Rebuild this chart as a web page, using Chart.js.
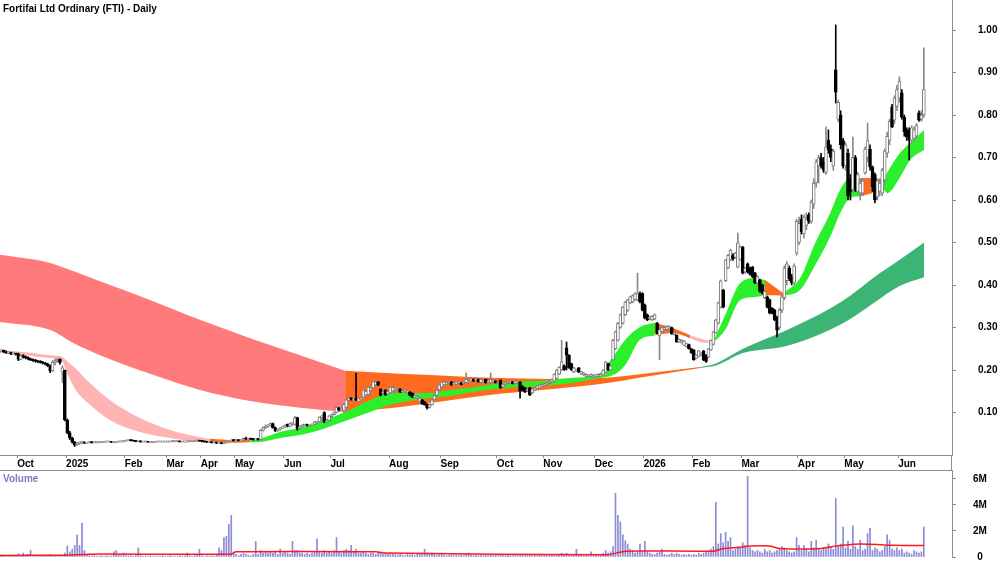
<!DOCTYPE html>
<html>
<head>
<meta charset="utf-8">
<script src="https://cdn.jsdelivr.net/npm/chart.js@4.4.1/dist/chart.umd.min.js"></script>
<style>
  body { margin: 0; background: #fff; width: 1000px; height: 562px; overflow: hidden; position: relative; }
  canvas { position: absolute; left: 0; }
  #price { top: 0; }
  #vol { top: 469px; }
  .lbl { position: absolute; font: bold 10px "Liberation Sans", Arial, sans-serif; white-space: nowrap; }
  #title { left: 3px; top: 3px; color: #000; }
  #volTitle { left: 3px; top: 473px; color: #7a7ac6; }
  #axisJoin { position: absolute; left: 951px; top: 455px; width: 1px; height: 15px; background: #8c8c8c; }
</style>
</head>
<body>
<canvas id="price" width="1000" height="470"></canvas>
<canvas id="vol" width="1000" height="93"></canvas>
<div id="axisJoin"></div>
<div class="lbl" id="title">Fortifai Ltd Ordinary (FTI) - Daily</div>
<div class="lbl" id="volTitle">Volume</div>
<script>
// one row per trading day: [open, high, low, close, volume in millions]
const sep24 = [
  [0.245,0.248,0.243,0.246,0.15],[0.246,0.247,0.241,0.243,0.1],[0.243,0.245,0.239,0.240,0.12],
  [0.240,0.243,0.238,0.241,0.08],[0.241,0.242,0.236,0.238,0.1],[0.238,0.240,0.236,0.239,0.06],
  [0.239,0.240,0.235,0.237,0.09]
];
const oct24 = [
  [0.237,0.240,0.222,0.225,0.25],[0.225,0.236,0.224,0.234,0.15],[0.234,0.236,0.228,0.230,0.3],
  [0.230,0.233,0.226,0.229,0.1],[0.229,0.231,0.224,0.226,0.2],[0.226,0.228,0.222,0.224,0.5],
  [0.224,0.226,0.220,0.222,0.1],[0.222,0.225,0.218,0.221,0.08],[0.221,0.223,0.217,0.219,0.12],
  [0.219,0.222,0.216,0.218,0.06],[0.218,0.220,0.214,0.216,0.1],[0.216,0.218,0.212,0.214,0.08],
  [0.214,0.216,0.208,0.210,0.12],[0.210,0.212,0.194,0.198,0.2],[0.198,0.222,0.196,0.218,0.15],
  [0.218,0.226,0.212,0.222,0.1],[0.222,0.228,0.218,0.225,0.12],[0.225,0.226,0.214,0.218,0.08],
  [0.195,0.210,0.170,0.205,0.1],[0.200,0.200,0.080,0.082,0.3]
];
const jan25 = [
  [0.082,0.085,0.050,0.052,0.85],[0.052,0.056,0.036,0.040,0.4],[0.040,0.042,0.028,0.030,0.6],
  [0.030,0.032,0.020,0.024,0.9],[0.024,0.030,0.022,0.028,1.7],[0.028,0.031,0.025,0.029,0.9],
  [0.029,0.032,0.026,0.030,2.6],[0.030,0.031,0.027,0.028,0.5],[0.028,0.030,0.027,0.029,0.15],
  [0.029,0.031,0.028,0.030,0.1],[0.030,0.031,0.028,0.029,0.08],[0.029,0.030,0.028,0.029,0.1],
  [0.029,0.031,0.028,0.030,0.05],[0.030,0.031,0.029,0.030,0.08],[0.030,0.031,0.029,0.030,0.1],
  [0.030,0.032,0.029,0.031,0.06],[0.031,0.032,0.030,0.031,0.1],[0.031,0.032,0.030,0.031,0.05],
  [0.031,0.032,0.029,0.030,0.08],[0.030,0.031,0.029,0.030,0.4],[0.030,0.032,0.029,0.031,0.5],
  [0.031,0.032,0.030,0.031,0.15],[0.031,0.033,0.030,0.032,0.1],[0.032,0.034,0.031,0.033,0.3]
];
const feb25 = [
  [0.033,0.035,0.032,0.034,0.1],[0.034,0.036,0.033,0.035,0.08],[0.035,0.036,0.033,0.034,0.1],
  [0.034,0.035,0.032,0.033,0.05],[0.033,0.034,0.031,0.032,0.1],[0.032,0.033,0.031,0.032,0.7],
  [0.032,0.033,0.030,0.031,0.1],[0.031,0.032,0.030,0.031,0.05],[0.031,0.032,0.030,0.031,0.08],
  [0.031,0.032,0.030,0.030,0.05],[0.030,0.031,0.029,0.030,0.1],[0.030,0.031,0.029,0.030,0.06],
  [0.030,0.031,0.029,0.031,0.05],[0.031,0.032,0.030,0.031,0.08],[0.031,0.032,0.030,0.031,0.05],
  [0.031,0.032,0.030,0.031,0.1],[0.031,0.032,0.030,0.031,0.05]
];
const mar25 = [
  [0.031,0.032,0.030,0.031,0.06],[0.031,0.032,0.030,0.032,0.1],[0.032,0.033,0.031,0.032,0.05],
  [0.032,0.033,0.031,0.032,0.08],[0.032,0.033,0.031,0.032,0.05],[0.032,0.033,0.031,0.031,0.1],
  [0.031,0.032,0.030,0.031,0.05],[0.031,0.032,0.030,0.031,0.08],[0.031,0.033,0.030,0.032,0.3],
  [0.032,0.033,0.031,0.032,0.1],[0.032,0.033,0.031,0.032,0.05],[0.032,0.034,0.031,0.033,0.1],
  [0.033,0.035,0.032,0.034,0.2],[0.034,0.035,0.032,0.033,0.6]
];
const apr25 = [
  [0.033,0.034,0.031,0.032,0.1],[0.032,0.033,0.030,0.031,0.05],[0.031,0.032,0.029,0.030,0.1],
  [0.030,0.031,0.029,0.030,0.05],[0.030,0.031,0.028,0.029,0.1],[0.029,0.030,0.028,0.029,0.08],
  [0.029,0.030,0.027,0.028,0.2],[0.028,0.030,0.027,0.029,0.7],[0.029,0.030,0.026,0.027,0.5],
  [0.027,0.030,0.026,0.029,1.5],[0.029,0.031,0.028,0.030,1.6],[0.030,0.033,0.029,0.032,2.5],
  [0.032,0.036,0.031,0.035,3.2],[0.035,0.037,0.033,0.034,0.4]
];
const may25 = [
  [0.034,0.036,0.033,0.035,0.2],[0.035,0.036,0.033,0.034,0.1],[0.034,0.036,0.033,0.035,0.2],
  [0.035,0.040,0.034,0.039,0.3],[0.039,0.042,0.036,0.037,0.2],[0.037,0.040,0.035,0.038,0.15],
  [0.038,0.040,0.036,0.037,0.1],[0.037,0.039,0.035,0.036,0.2],[0.036,0.038,0.035,0.037,1.2],
  [0.037,0.039,0.035,0.036,0.2],[0.036,0.060,0.035,0.058,0.5],[0.058,0.066,0.056,0.064,0.3],
  [0.064,0.071,0.062,0.068,0.4],[0.068,0.072,0.065,0.070,0.3],[0.070,0.076,0.068,0.074,0.4],
  [0.074,0.075,0.063,0.064,0.3],[0.064,0.066,0.055,0.057,0.4],[0.057,0.061,0.055,0.060,0.2],
  [0.060,0.065,0.058,0.064,0.6],[0.064,0.068,0.062,0.066,0.3]
];
const jun25 = [
  [0.066,0.071,0.064,0.070,0.4],[0.072,0.073,0.066,0.068,0.3],[0.067,0.076,0.066,0.074,0.2],
  [0.072,0.077,0.070,0.075,1.2],[0.072,0.091,0.070,0.088,0.5],[0.088,0.089,0.058,0.062,0.5],
  [0.062,0.069,0.060,0.067,0.3],[0.067,0.072,0.065,0.070,0.3],[0.070,0.073,0.068,0.071,0.2],
  [0.071,0.073,0.068,0.070,0.3],[0.070,0.072,0.068,0.071,0.2],[0.071,0.073,0.069,0.072,0.3],
  [0.072,0.079,0.071,0.078,0.4],[0.077,0.080,0.074,0.078,1.4],[0.078,0.090,0.077,0.089,0.4],
  [0.089,0.093,0.080,0.091,0.3],[0.100,0.102,0.076,0.078,0.5],[0.078,0.083,0.076,0.081,0.3],
  [0.081,0.093,0.080,0.092,0.4]
];
const jul25 = [
  [0.090,0.096,0.088,0.095,0.3],[0.095,0.101,0.094,0.100,0.5],[0.100,0.114,0.099,0.112,1.5],
  [0.110,0.112,0.104,0.106,0.4],[0.106,0.111,0.104,0.110,0.3],[0.104,0.121,0.100,0.119,0.5],
  [0.112,0.131,0.110,0.130,0.6],[0.128,0.136,0.125,0.134,0.5],[0.134,0.135,0.129,0.131,0.9],
  [0.130,0.135,0.127,0.133,0.4],[0.133,0.193,0.128,0.129,0.6],[0.125,0.135,0.124,0.134,0.3],
  [0.131,0.135,0.128,0.133,0.3],[0.136,0.154,0.135,0.153,0.4],[0.141,0.152,0.140,0.150,0.3],
  [0.142,0.161,0.140,0.160,0.2],[0.152,0.161,0.150,0.158,0.3],[0.158,0.173,0.157,0.172,0.3],
  [0.165,0.174,0.164,0.172,0.2],[0.172,0.173,0.163,0.165,0.3],[0.155,0.156,0.139,0.141,0.4],
  [0.145,0.151,0.143,0.149,0.2],[0.152,0.154,0.140,0.142,0.3],[0.144,0.151,0.143,0.150,0.2]
];
const aug25 = [
  [0.146,0.161,0.145,0.160,0.3],[0.150,0.161,0.149,0.159,0.2],[0.153,0.158,0.151,0.157,0.2],
  [0.151,0.156,0.149,0.155,0.15],[0.155,0.156,0.147,0.148,0.2],[0.148,0.153,0.147,0.152,0.15],
  [0.149,0.154,0.147,0.153,0.1],[0.147,0.151,0.145,0.150,0.2],[0.148,0.149,0.139,0.140,0.15],
  [0.145,0.146,0.135,0.136,0.2],[0.136,0.141,0.135,0.140,0.1],[0.134,0.139,0.132,0.138,0.3],
  [0.125,0.135,0.124,0.134,0.2],[0.130,0.131,0.119,0.120,0.3],[0.125,0.126,0.117,0.118,0.6],
  [0.120,0.121,0.108,0.111,0.3],[0.112,0.119,0.110,0.118,0.2],[0.118,0.131,0.117,0.130,0.3],
  [0.130,0.141,0.129,0.140,0.2],[0.140,0.154,0.139,0.153,0.15],[0.153,0.166,0.152,0.165,0.2]
];
const sep25 = [
  [0.160,0.173,0.159,0.172,0.2],[0.165,0.173,0.164,0.172,0.15],[0.166,0.171,0.164,0.170,0.1],
  [0.168,0.173,0.167,0.172,0.15],[0.172,0.173,0.164,0.165,0.2],[0.165,0.171,0.164,0.170,0.1],
  [0.166,0.173,0.165,0.172,0.15],[0.168,0.173,0.167,0.172,0.1],[0.170,0.171,0.165,0.166,0.15],
  [0.168,0.173,0.167,0.172,0.1],[0.170,0.193,0.169,0.178,0.2],[0.172,0.177,0.171,0.176,0.3],
  [0.174,0.181,0.173,0.180,0.15],[0.178,0.179,0.173,0.174,0.1],[0.175,0.181,0.174,0.180,0.15],
  [0.178,0.179,0.171,0.172,0.1],[0.170,0.179,0.169,0.178,0.15],[0.172,0.177,0.171,0.176,0.1],
  [0.178,0.179,0.169,0.170,0.15],[0.170,0.175,0.169,0.174,0.1],[0.170,0.193,0.169,0.178,0.15],
  [0.172,0.177,0.171,0.176,0.1],[0.174,0.175,0.169,0.170,0.15]
];
const oct25 = [
  [0.168,0.173,0.167,0.172,0.1],[0.176,0.177,0.157,0.158,0.2],[0.160,0.167,0.159,0.166,0.15],
  [0.165,0.171,0.164,0.170,0.1],[0.168,0.173,0.167,0.172,0.15],[0.170,0.174,0.169,0.173,0.1],
  [0.172,0.173,0.167,0.168,0.1],[0.168,0.175,0.167,0.174,0.15],[0.170,0.175,0.169,0.174,0.1],
  [0.172,0.173,0.134,0.150,0.2],[0.162,0.163,0.151,0.152,0.15],[0.158,0.159,0.147,0.148,0.1],
  [0.150,0.156,0.149,0.155,0.15],[0.158,0.159,0.140,0.141,0.2],[0.146,0.156,0.145,0.155,0.1],
  [0.152,0.159,0.151,0.158,0.15],[0.156,0.163,0.155,0.162,0.1],[0.158,0.166,0.157,0.165,0.15],
  [0.162,0.167,0.161,0.166,0.1]
];
const nov25 = [
  [0.164,0.169,0.163,0.168,0.15],[0.165,0.171,0.164,0.170,0.1],[0.168,0.173,0.167,0.172,0.15],
  [0.172,0.179,0.171,0.178,0.2],[0.174,0.191,0.173,0.190,0.15],[0.180,0.201,0.179,0.200,0.2],
  [0.190,0.208,0.189,0.207,0.15],[0.200,0.270,0.199,0.220,0.3],[0.210,0.212,0.199,0.201,0.2],
  [0.252,0.266,0.200,0.235,0.3],[0.235,0.236,0.204,0.205,0.2],[0.215,0.216,0.199,0.200,0.15],
  [0.195,0.206,0.194,0.205,0.2],[0.198,0.201,0.196,0.200,0.6],[0.205,0.206,0.194,0.195,0.2],
  [0.190,0.197,0.189,0.196,0.15],[0.188,0.194,0.187,0.193,0.1],[0.185,0.191,0.184,0.190,0.15],
  [0.184,0.189,0.183,0.188,0.1],[0.185,0.191,0.184,0.190,0.4],[0.183,0.189,0.182,0.188,0.1]
];
const dec25 = [
  [0.184,0.190,0.183,0.189,0.15],[0.185,0.191,0.184,0.190,0.1],[0.186,0.191,0.185,0.190,0.2],
  [0.188,0.201,0.187,0.200,0.3],[0.195,0.220,0.194,0.219,0.5],[0.215,0.216,0.199,0.200,0.3],
  [0.200,0.211,0.199,0.210,0.4],[0.224,0.272,0.222,0.270,0.8],[0.250,0.292,0.248,0.290,4.9],
  [0.270,0.312,0.268,0.310,3.2],[0.300,0.332,0.298,0.330,2.7],[0.310,0.350,0.308,0.348,1.7],
  [0.330,0.362,0.328,0.360,1.25],[0.340,0.367,0.338,0.365,1.0],[0.358,0.374,0.356,0.372,0.6],
  [0.360,0.377,0.358,0.375,0.5],[0.365,0.382,0.363,0.380,0.3],[0.365,0.428,0.363,0.380,0.4],
  [0.380,0.384,0.358,0.360,1.0],[0.380,0.382,0.339,0.341,0.4]
];
const jan26 = [
  [0.353,0.355,0.320,0.322,1.2],[0.330,0.332,0.316,0.318,0.4],[0.320,0.326,0.318,0.325,0.3],
  [0.318,0.328,0.316,0.326,0.2],[0.320,0.332,0.318,0.330,0.2],[0.310,0.312,0.285,0.287,0.3],
  [0.280,0.297,0.224,0.295,0.4],[0.290,0.302,0.288,0.300,0.6],[0.295,0.302,0.293,0.300,0.2],
  [0.295,0.304,0.294,0.302,0.15],[0.296,0.304,0.295,0.302,0.2],[0.300,0.301,0.284,0.285,0.3],
  [0.283,0.290,0.282,0.288,0.2],[0.282,0.283,0.265,0.266,0.3],[0.266,0.273,0.265,0.272,0.2],
  [0.265,0.271,0.263,0.270,0.15],[0.258,0.269,0.257,0.268,0.2],[0.255,0.263,0.254,0.262,0.15],
  [0.260,0.261,0.249,0.250,0.2],[0.250,0.251,0.239,0.240,0.15]
];
const feb26 = [
  [0.247,0.248,0.223,0.224,0.2],[0.228,0.236,0.226,0.235,0.15],[0.232,0.246,0.231,0.245,0.3],
  [0.235,0.241,0.233,0.240,0.2],[0.245,0.246,0.222,0.224,0.3],[0.235,0.236,0.218,0.220,0.4],
  [0.230,0.251,0.229,0.250,0.5],[0.247,0.271,0.246,0.270,0.6],[0.260,0.291,0.259,0.290,0.8],
  [0.287,0.319,0.286,0.318,4.2],[0.310,0.360,0.308,0.358,1.0],[0.348,0.412,0.346,0.410,1.8],
  [0.388,0.390,0.346,0.348,1.1],[0.410,0.460,0.408,0.459,1.9],[0.440,0.472,0.438,0.470,1.2],
  [0.459,0.484,0.457,0.482,1.5],[0.470,0.474,0.458,0.462,0.5],[0.465,0.477,0.463,0.475,0.6],
  [0.442,0.522,0.440,0.499,0.8],[0.460,0.492,0.458,0.490,0.7]
];
const mar26 = [
  [0.489,0.491,0.426,0.428,1.1],[0.430,0.442,0.428,0.440,0.9],[0.450,0.452,0.428,0.430,6.2],
  [0.440,0.442,0.423,0.425,0.7],[0.442,0.444,0.417,0.419,0.5],[0.428,0.430,0.403,0.405,0.4],
  [0.405,0.422,0.403,0.420,0.5],[0.412,0.414,0.383,0.385,0.4],[0.400,0.402,0.379,0.381,0.3],
  [0.370,0.387,0.368,0.385,0.6],[0.372,0.374,0.346,0.348,0.4],[0.365,0.367,0.332,0.334,0.5],
  [0.345,0.347,0.332,0.334,0.3],[0.341,0.343,0.316,0.318,0.4],[0.325,0.327,0.278,0.294,0.5],
  [0.300,0.345,0.295,0.341,0.6],[0.341,0.375,0.335,0.372,0.8],[0.370,0.445,0.365,0.440,0.7],
  [0.410,0.455,0.400,0.450,0.5],[0.440,0.445,0.410,0.415,0.4],[0.420,0.425,0.400,0.405,0.3],
  [0.405,0.450,0.400,0.445,0.4],[0.475,0.555,0.470,0.550,1.5]
];
const apr26 = [
  [0.500,0.560,0.495,0.545,0.9],[0.555,0.565,0.520,0.525,0.5],[0.520,0.565,0.510,0.560,0.9],
  [0.540,0.570,0.530,0.555,0.6],[0.565,0.570,0.545,0.550,0.4],[0.550,0.600,0.545,0.595,1.2],
  [0.590,0.650,0.580,0.640,0.7],[0.640,0.695,0.630,0.690,1.3],[0.680,0.705,0.640,0.700,0.6],
  [0.700,0.710,0.675,0.680,0.5],[0.690,0.700,0.665,0.670,0.7],[0.665,0.772,0.660,0.725,0.6],
  [0.741,0.765,0.710,0.718,1.0],[0.720,0.730,0.690,0.700,0.8],[0.680,0.720,0.670,0.715,0.6],
  [0.906,1.012,0.828,0.854,4.5],[0.790,0.835,0.785,0.830,0.8],[0.800,0.810,0.720,0.730,1.0],
  [0.740,0.745,0.675,0.680,2.3]
];
const may26 = [
  [0.680,0.735,0.670,0.730,0.7],[0.710,0.720,0.600,0.610,1.2],[0.650,0.660,0.600,0.620,0.6],
  [0.624,0.748,0.620,0.700,2.4],[0.700,0.705,0.620,0.624,0.8],[0.620,0.665,0.615,0.660,0.6],
  [0.616,0.650,0.600,0.640,1.3],[0.616,0.650,0.610,0.645,0.5],[0.664,0.725,0.660,0.720,0.6],
  [0.700,0.781,0.690,0.740,1.8],[0.720,0.730,0.670,0.678,2.2],[0.678,0.680,0.620,0.631,0.5],
  [0.660,0.664,0.593,0.600,0.7],[0.607,0.650,0.600,0.645,0.6],[0.620,0.650,0.610,0.640,0.4],
  [0.616,0.675,0.610,0.670,0.5],[0.647,0.720,0.640,0.715,0.8],[0.710,0.760,0.700,0.750,1.7],
  [0.740,0.790,0.730,0.785,1.3],[0.819,0.825,0.770,0.772,0.6],[0.788,0.845,0.780,0.840,0.5],
  [0.820,0.870,0.810,0.860,0.7]
];
const jun26 = [
  [0.840,0.890,0.830,0.880,0.5],[0.852,0.860,0.790,0.795,0.6],[0.795,0.800,0.750,0.760,0.3],
  [0.765,0.770,0.740,0.748,0.4],[0.765,0.770,0.694,0.741,0.3],[0.741,0.775,0.735,0.770,0.2],
  [0.745,0.772,0.740,0.765,0.5],[0.750,0.780,0.745,0.775,0.4],[0.805,0.810,0.785,0.788,0.3],
  [0.790,0.810,0.785,0.800,0.4],[0.800,0.958,0.795,0.860,2.3]
];

const monthChunks = [sep24, oct24, jan25, feb25, mar25, apr25, may25, jun25, jul25, aug25, sep25,
                     oct25, nov25, dec25, jan26, feb26, mar26, apr26, may26, jun26];
const monthLabels = ['', 'Oct', '2025', 'Feb', 'Mar', 'Apr', 'May', 'Jun', 'Jul', 'Aug', 'Sep',
                     'Oct', 'Nov', 'Dec', '2026', 'Feb', 'Mar', 'Apr', 'May', 'Jun'];
const priceTicks = [0.1, 0.2, 0.3, 0.4, 0.5, 0.6, 0.7, 0.8, 0.9, 1.0];
const volTicks = [0, 2, 4, 6];

// short-term ribbon (bar index, upper, lower, trend of the stretch starting there)
const fastX = [-0.5, 9.7, 20, 24.8, 27.3, 30.2, 36.3, 44.5, 56.7, 69, 81.2, 85.3, 95.5, 101.7,
  106.6, 113.9, 122.1, 130.3, 140.5, 150.7, 158.9, 168.3, 175.2, 183.4, 195.7, 207.9, 220.2,
  232.4, 244.7, 250, 255, 261, 267.2, 274.5, 281.5, 287.6, 290.9, 295.8, 302, 308.1, 312.1,
  316.2, 319.5, 326.4, 332.6, 338.7, 342.8, 346.9, 351, 355.9, 358.3, 360.5, 362, 367.3, 371.4, 377.1];
const fastUpper = [0.247, 0.242, 0.235, 0.231, 0.219, 0.205, 0.169, 0.129, 0.087, 0.059, 0.042, 0.038, 0.035, 0.036,
  0.040, 0.054, 0.064, 0.078, 0.101, 0.129, 0.146, 0.146, 0.146, 0.153, 0.162, 0.172, 0.174,
  0.181, 0.193, 0.231, 0.271, 0.301, 0.311, 0.299, 0.282, 0.271, 0.266, 0.329, 0.405, 0.416, 0.412,
  0.395, 0.381, 0.416, 0.499, 0.569, 0.624, 0.652, 0.652, 0.652, 0.650, 0.648, 0.664, 0.711, 0.734, 0.765];
const fastLower = [0.240, 0.235, 0.228, 0.221, 0.188, 0.155, 0.118, 0.082, 0.054, 0.040, 0.031, 0.031, 0.029, 0.030,
  0.031, 0.040, 0.047, 0.059, 0.080, 0.101, 0.118, 0.129, 0.134, 0.139, 0.151, 0.158, 0.162,
  0.169, 0.181, 0.188, 0.212, 0.271, 0.282, 0.287, 0.275, 0.264, 0.264, 0.294, 0.365, 0.372, 0.376,
  0.376, 0.374, 0.388, 0.447, 0.513, 0.569, 0.605, 0.609, 0.616, 0.622, 0.626, 0.616, 0.654, 0.694, 0.718];
const fastTrend = ['dn','dn','dn','dn','dn','dn','dn','dn','dn','dn','dn','turn','turn','up',
  'up','up','up','up','up','up','up','up','up','up','up','up','up',
  'up','up','up','up','up','turn','turn','dn','dn','up','up','up','up','turn',
  'turn','up','up','up','up','up','up','turn','up','turn','up','up','up','up','up'];

// long-term ribbon
const slowX = [-0.5, 20, 30.2, 40.4, 60.8, 81.2, 101.7, 122.1, 140.5, 163, 183.4, 203.8, 224.3,
  244.7, 265.1, 285.6, 291.7, 303.1, 319.5, 330.5, 338.7, 346.9, 357.1, 367.3, 377.1];
const slowUpper = [0.471, 0.452, 0.431, 0.409, 0.365, 0.318, 0.275, 0.235, 0.198, 0.191, 0.186, 0.181, 0.179,
  0.181, 0.193, 0.207, 0.215, 0.250, 0.290, 0.320, 0.345, 0.375, 0.420, 0.460, 0.500];
const slowLower = [0.313, 0.294, 0.261, 0.235, 0.191, 0.153, 0.127, 0.111, 0.101, 0.113, 0.129, 0.144, 0.155,
  0.167, 0.186, 0.205, 0.210, 0.240, 0.255, 0.275, 0.295, 0.320, 0.360, 0.398, 0.418];
const slowTrend = ['dn','dn','dn','dn','dn','dn','dn','dn','turn','turn','turn','turn','turn',
  'turn','turn','up','up','up','up','up','up','up','up','up','up'];

// average volume line (millions)
const volAvgX = [-0.5, 26, 36, 94, 96, 153, 157, 248, 255, 291, 295, 302, 306, 314, 318, 335, 341, 351, 359, 363, 377];
const volAvg = [0.12, 0.14, 0.22, 0.22, 0.4, 0.4, 0.3, 0.18, 0.45, 0.45, 0.65, 0.75, 0.85, 0.85, 0.65, 0.65, 0.85, 1.0, 0.95, 0.9, 0.88];

const fastColors = { dn: '#ffb3b3', turn: '#ff6a1e', up: '#2cef2c' };
const slowColors = { dn: '#ff7b7b', turn: '#ff6a1e', up: '#3bb474' };

const bars = monthChunks.flat();
const tickPos = [];
const tickText = [];
let count = 0;
monthChunks.forEach((m, k) => {
  if (monthLabels[k]) {
    tickPos.push(count - 0.5);
    tickText.push(monthLabels[k]);
  }
  count += m.length;
});

const X_MIN = -0.5, X_MAX = 388.5;
const axisGrey = '#8c8c8c';
const tickFont = { family: '"Liberation Sans", Arial, sans-serif', size: 10, weight: 'bold' };

// stop Chart.js from reserving room for the end labels / tick padding
function noPad(s) {
  s.paddingTop = 0; s.paddingBottom = 0; s.paddingLeft = 0; s.paddingRight = 0;
}

function ribbonSets(xs, upper, lower, trend, colors, order) {
  const sets = [];
  let start = 0;
  for (let i = 1; i < xs.length; i++) {
    if (i === xs.length - 1 || trend[i] !== trend[start]) {
      const idx = [];
      for (let j = start; j <= i; j++) idx.push(j);
      const col = colors[trend[start]];
      const common = {
        type: 'line', pointRadius: 0, borderWidth: 0, borderColor: 'rgba(0,0,0,0)',
        cubicInterpolationMode: 'monotone', order: order
      };
      sets.push(Object.assign({}, common, { data: idx.map(j => ({ x: xs[j], y: upper[j] })), fill: false }));
      sets.push(Object.assign({}, common, { data: idx.map(j => ({ x: xs[j], y: lower[j] })), fill: '-1', backgroundColor: col }));
      start = i;
    }
  }
  return sets;
}

const isUp = b => b[3] >= b[0];

const priceDatasets = [
  {
    type: 'bar',
    data: bars.map((b, i) => ({ x: i, y: [b[0], b[3]] })),
    backgroundColor: bars.map(b => isUp(b) ? '#ffffff' : '#000000'),
    borderColor: bars.map(b => isUp(b) ? '#7a7a7a' : '#000000'),
    borderWidth: 1,
    borderSkipped: false,
    barThickness: 3,
    minBarLength: 1,
    grouped: false,
    order: 1
  },
  {
    type: 'bar',
    data: bars.map((b, i) => ({ x: i, y: [b[2], b[1]] })),
    backgroundColor: bars.map(b => isUp(b) ? '#8a8a8a' : '#000000'),
    borderWidth: 0,
    barThickness: 1,
    grouped: false,
    order: 2
  },
  ...ribbonSets(fastX, fastUpper, fastLower, fastTrend, fastColors, 10),
  ...ribbonSets(slowX, slowUpper, slowLower, slowTrend, slowColors, 20)
];

new Chart(document.getElementById('price'), {
  type: 'bar',
  data: { datasets: priceDatasets },
  options: {
    responsive: false,
    animation: false,
    devicePixelRatio: 1,
    layout: { padding: 0 },
    plugins: { legend: { display: false }, tooltip: { enabled: false } },
    scales: {
      x: {
        type: 'linear', min: X_MIN, max: X_MAX, offset: false,
        afterBuildTicks: s => { s.ticks = tickPos.map(v => ({ value: v })); },
        afterFit: s => { s.height = 15; noPad(s); },
        ticks: {
          autoSkip: false, maxRotation: 0, align: 'start', padding: 0,
          color: '#000', font: tickFont,
          callback: (v, i) => tickText[i]
        },
        grid: { drawOnChartArea: false, tickLength: 3, color: axisGrey, offset: false },
        border: { color: axisGrey }
      },
      y: {
        position: 'right', min: 0, max: 1.0706,
        afterBuildTicks: s => { s.ticks = priceTicks.map(v => ({ value: v })); },
        afterFit: s => { s.width = 48; noPad(s); },
        ticks: { color: '#000', font: tickFont, padding: 22, callback: v => v.toFixed(2) },
        grid: { drawOnChartArea: false, tickLength: 4, color: axisGrey },
        border: { color: axisGrey }
      }
    }
  }
});

new Chart(document.getElementById('vol'), {
  type: 'bar',
  data: {
    datasets: [
      {
        type: 'line',
        data: volAvgX.map((x, i) => ({ x: x, y: volAvg[i] })),
        borderColor: '#ff1a1a', borderWidth: 1.5, pointRadius: 0, tension: 0.2, order: 1
      },
      {
        type: 'bar',
        data: bars.map((b, i) => ({ x: i, y: b[4] })),
        backgroundColor: '#8b8bd8',
        barThickness: 1, grouped: false, order: 2
      }
    ]
  },
  options: {
    responsive: false,
    animation: false,
    devicePixelRatio: 1,
    layout: { padding: { bottom: 5 } },
    plugins: { legend: { display: false }, tooltip: { enabled: false } },
    scales: {
      x: {
        type: 'linear', position: 'top', min: X_MIN, max: X_MAX, offset: false,
        afterFit: s => { s.height = 1; noPad(s); },
        ticks: { display: false },
        grid: { drawOnChartArea: false, drawTicks: false, offset: false },
        border: { color: axisGrey }
      },
      y: {
        position: 'right', min: 0, max: 6.69,
        afterBuildTicks: s => { s.ticks = volTicks.map(v => ({ value: v })); },
        afterFit: s => { s.width = 48; noPad(s); },
        ticks: {
          color: '#000', font: tickFont, padding: 17, crossAlign: 'center',
          callback: v => v === 0 ? '0' : v + 'M'
        },
        grid: { drawOnChartArea: false, tickLength: 4, color: axisGrey },
        border: { color: axisGrey }
      }
    }
  }
});
</script>
</body>
</html>
